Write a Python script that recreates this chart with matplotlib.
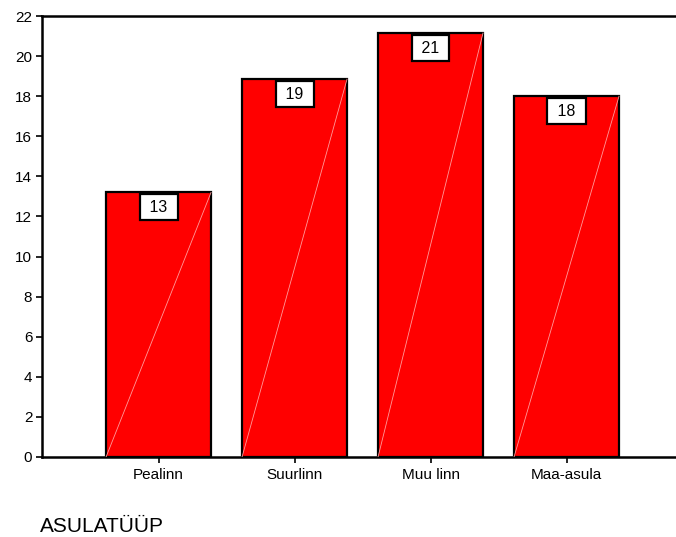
import matplotlib
matplotlib.use("Agg")
import matplotlib.pyplot as plt
import numpy as np

categories = ["Pealinn", "Suurlinn", "Muu linn", "Maa-asula"]
values = [13.2, 18.85, 21.15, 18.0]
labels = ["13", "19", "21", "18"]
yticks = list(range(0, 23, 2))

plt.rcParams['font.family'] = ['Liberation Sans', 'DejaVu Sans']

W, H = 676, 537
fig = plt.figure(figsize=(W / 100, H / 100), dpi=100)
ax = fig.add_axes([42 / W, (H - 457) / H, (W - 42) / W, (457 - 16) / H])

x = np.arange(len(categories))
bw = 0.772
ax.bar(x, values, width=bw, color="#ff0000", edgecolor="black", linewidth=1.6, zorder=2)
for xi, v in zip(x, values):
    ax.plot([xi - bw / 2, xi + bw / 2], [0, v], color="#ff9a9a", lw=0.6, zorder=3)

for xi, v, lab in zip(x, values, labels):
    ax.annotate(" " + lab + " ", xy=(xi, v), xytext=(0, -10.8), textcoords="offset points",
                ha="center", va="center", fontsize=11.5, zorder=5,
                bbox=dict(boxstyle="square,pad=0.35", fc="white", ec="black", lw=1.6))

ax.set_xlim(-0.857, 3.805)
ax.set_ylim(0, 22)
ax.set_yticks(yticks)
ax.set_xticks(x)
ax.set_xticklabels(categories, fontsize=11)
ax.tick_params(axis="y", labelsize=11, length=4, width=1.2, pad=3)
ax.tick_params(axis="x", length=4, width=1.2, pad=4)
for s in ["left", "bottom", "top"]:
    ax.spines[s].set_linewidth(1.8)
ax.spines["right"].set_visible(False)

fig.text(40 / W, 1 - 527 / H, "ASULATÜÜP", fontsize=15, ha="left", va="center")

fig.savefig("out.png", dpi=100)
